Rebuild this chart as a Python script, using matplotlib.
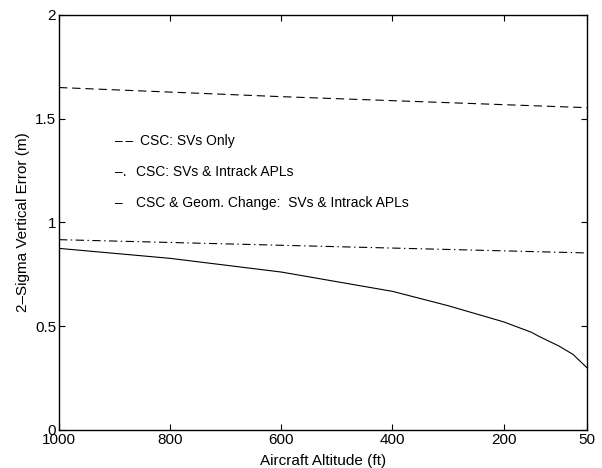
import matplotlib
matplotlib.use("Agg")
import matplotlib.pyplot as plt

plt.rcParams['font.family'] = ['Liberation Sans', 'DejaVu Sans']
plt.rcParams['lines.scale_dashes'] = False

# data
alt_svs = [1000, 600, 50]
err_svs = [1.650, 1.606, 1.553]

alt_apl = [1000, 600, 50]
err_apl = [0.917, 0.890, 0.853]

alt_geom = [1000, 800, 600, 400, 300, 200, 150, 137, 100, 75, 50]
err_geom = [0.875, 0.827, 0.761, 0.668, 0.599, 0.521, 0.471, 0.452, 0.404, 0.364, 0.300]

x_ticks = [1000, 800, 600, 400, 200, 50]
y_ticks = [0, 0.5, 1, 1.5, 2]
y_tick_labels = ['0', '0.5', '1', '1.5', '2']

legend_marks = ['\u2013\u2009\u2013', '\u2013.', '\u2013']
legend_texts = ['CSC: SVs Only',
                'CSC: SVs & Intrack APLs',
                'CSC & Geom. Change:  SVs & Intrack APLs']
legend_x = [0.153, 0.146, 0.146]

fig = plt.figure(figsize=(6.02, 4.68), dpi=100)
ax = fig.add_axes([0.098, 0.0812, 0.877, 0.887])

lw = 0.8
ax.plot(alt_svs, err_svs, color='black', lw=lw, dashes=(6, 3.5))
ax.plot(alt_apl, err_apl, color='black', lw=lw, dashes=(6, 2.5, 1, 2.5))
ax.plot(alt_geom, err_geom, color='black', lw=lw)

ax.set_xlim(1000, 50)
ax.set_ylim(0, 2)
ax.set_xticks(x_ticks)
ax.set_xticklabels([str(t) for t in x_ticks])
ax.set_yticks(y_ticks)
ax.set_yticklabels(y_tick_labels)
ax.tick_params(direction='in', length=4, width=0.8, top=True, right=True,
               labelsize=11, pad=2)
for s in ax.spines.values():
    s.set_linewidth(1.0)

ax.set_xlabel('Aircraft Altitude (ft)', fontsize=11, labelpad=5)
ax.set_ylabel('2\u2013Sigma Vertical Error (m)', fontsize=11, labelpad=4)

# text legend, MATLAB style
ys = [0.696, 0.622, 0.547]
for mark, txt, x, y in zip(legend_marks, legend_texts, legend_x, ys):
    ax.text(0.106, y, mark, transform=ax.transAxes, fontsize=10, va='center')
    ax.text(x, y, txt, transform=ax.transAxes, fontsize=10, va='center')

fig.savefig('out.png', dpi=100)
